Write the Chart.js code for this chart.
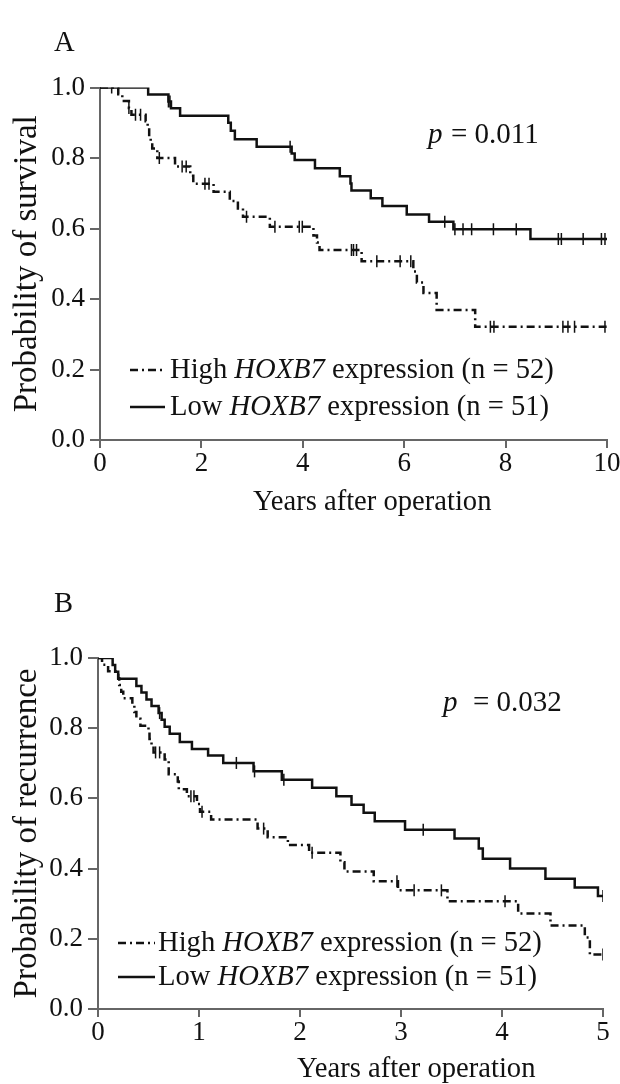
<!DOCTYPE html>
<html>
<head>
<meta charset="utf-8">
<script src="https://cdn.jsdelivr.net/npm/chart.js@4.4.0/dist/chart.umd.min.js"></script>
<style>
  html, body { margin: 0; padding: 0; background: #fff; overflow: hidden; }
  .panel { position: absolute; left: 0; width: 620px; }
  #panelA { top: 0; height: 540px; }
  #panelB { top: 542px; height: 560px; }
</style>
</head>
<body>
<div class="panel" id="panelA"><canvas id="chartA"></canvas></div>
<div class="panel" id="panelB"><canvas id="chartB"></canvas></div>
<script>
//--------------------------------DATA----------------------------------------

// Panel A: survival (years after operation)
const aLowTimes  = [0, 0.95, 1.35, 1.40, 1.58, 2.53, 2.58, 2.66, 3.09, 3.78, 3.84, 4.24, 4.73, 4.94, 4.96, 5.34, 5.57, 6.05, 6.49, 6.97, 8.49, 10];
const aLowSurv   = [1, 0.980, 0.960, 0.941, 0.920, 0.900, 0.877, 0.853, 0.832, 0.813, 0.794, 0.771, 0.748, 0.728, 0.708, 0.686, 0.664, 0.640, 0.619, 0.598, 0.570, 0.570];
const aLowCens   = [0.23, 1.35, 1.38, 3.75, 6.80, 7.00, 7.16, 7.33, 7.76, 8.21, 9.04, 9.10, 9.53, 9.89, 9.96];

const aHighTimes = [0, 0.36, 0.44, 0.57, 0.62, 0.90, 0.94, 0.97, 1.00, 1.03, 1.13, 1.48, 1.78, 1.84, 2.24, 2.56, 2.72, 2.82, 3.35, 4.21, 4.28, 4.33, 5.16, 6.18, 6.25, 6.38, 6.64, 7.40, 10];
const aHighSurv  = [1, 0.981, 0.962, 0.942, 0.923, 0.904, 0.885, 0.865, 0.846, 0.827, 0.800, 0.776, 0.750, 0.727, 0.704, 0.678, 0.657, 0.633, 0.605, 0.580, 0.560, 0.539, 0.507, 0.478, 0.447, 0.417, 0.369, 0.321, 0.321];
const aHighCens  = [0.57, 0.70, 0.80, 1.17, 1.62, 1.70, 2.07, 2.15, 2.89, 3.45, 3.93, 3.99, 4.96, 5.00, 5.06, 5.46, 5.92, 6.13, 7.70, 7.77, 9.13, 9.23, 9.36, 9.96];

// Panel B: recurrence (years after operation)
const bLowTimes  = [0, 0.145, 0.17, 0.20, 0.38, 0.43, 0.48, 0.53, 0.60, 0.63, 0.66, 0.71, 0.81, 0.93, 1.09, 1.24, 1.54, 1.82, 2.12, 2.36, 2.51, 2.63, 2.74, 3.04, 3.53, 3.77, 3.81, 4.08, 4.43, 4.72, 4.95, 5];
const bLowRec    = [1, 0.980, 0.961, 0.941, 0.920, 0.902, 0.882, 0.863, 0.843, 0.824, 0.804, 0.784, 0.761, 0.741, 0.722, 0.701, 0.677, 0.653, 0.630, 0.606, 0.582, 0.559, 0.535, 0.511, 0.486, 0.457, 0.428, 0.400, 0.371, 0.346, 0.322, 0.322];
const bLowCens   = [0.61, 1.37, 1.55, 1.84, 3.22, 5.0];

const bHighTimes = [0, 0.04, 0.10, 0.20, 0.21, 0.23, 0.25, 0.34, 0.36, 0.38, 0.42, 0.50, 0.51, 0.53, 0.55, 0.66, 0.70, 0.79, 0.80, 0.88, 0.98, 1.01, 1.12, 1.58, 1.68, 1.88, 2.09, 2.40, 2.44, 2.73, 2.97, 3.46, 4.16, 4.48, 4.82, 4.87, 5];
const bHighRec   = [1, 0.981, 0.962, 0.942, 0.923, 0.904, 0.885, 0.865, 0.846, 0.827, 0.807, 0.788, 0.769, 0.750, 0.731, 0.711, 0.669, 0.648, 0.626, 0.606, 0.584, 0.562, 0.540, 0.514, 0.489, 0.467, 0.445, 0.418, 0.392, 0.364, 0.338, 0.307, 0.272, 0.238, 0.204, 0.155, 0.155];
const bHighCens  = [0.57, 0.61, 0.92, 0.95, 1.03, 1.64, 2.12, 2.96, 3.13, 3.40, 4.03, 5.0];

// ticks and labels
const xTicksA = [0, 2, 4, 6, 8, 10];
const xTicksB = [0, 1, 2, 3, 4, 5];
const yTicks = [0, 0.2, 0.4, 0.6, 0.8, 1.0];
const yTickLabels = ['0.0', '0.2', '0.4', '0.6', '0.8', '1.0'];
const xTitle = 'Years after operation';
const legendHigh = ['High ', 'HOXB7', ' expression (n = 52)'];
const legendLow  = ['Low ', 'HOXB7', ' expression (n = 51)'];

//--------------------------------HELPERS-------------------------------------

const FONT = '"Liberation Serif", "Times New Roman", serif';
const FS = 27;       // tick labels
const FS_TXT = 28.6; // legend, titles
const FS_Y = 33;     // y axis title
const INK = '#111';
const AXIS = '#666';
const DASHDOT = [8, 4, 2, 4];

function toXY(times, vals) {
    return times.map((t, i) => ({ x: t, y: vals[i] }));
}

// censor marks sit on the step curve at the given time
function censorXY(cens, times, vals) {
    return cens.map(t => {
        let v = vals[0];
        for (let i = 0; i < times.length; i++) {
            if (times[i] <= t) v = vals[i];
        }
        return { x: t, y: v };
    });
}

function drawRuns(ctx, x, y, runs) {
    runs.forEach((r, i) => {
        ctx.font = (i % 2 === 1 ? 'italic ' : '') + FS_TXT + 'px ' + FONT;
        ctx.fillText(r, x, y);
        x += ctx.measureText(r).width;
    });
}

// panel letter, p value, x title and the legend with italic gene name
const annotate = {
    id: 'annotate',
    afterDraw(chart, args, o) {
        const ctx = chart.ctx;
        ctx.save();
        ctx.fillStyle = INK;
        ctx.strokeStyle = INK;
        ctx.textBaseline = 'alphabetic';
        ctx.textAlign = 'left';

        ctx.font = FS_TXT + 'px ' + FONT;
        ctx.fillText(o.letter, o.letterX, o.letterY);
        ctx.fillText(xTitle, o.xTitleX, o.xTitleY);

        ctx.font = 'italic 29px ' + FONT;
        ctx.fillText('p', o.pX, o.pY);
        ctx.font = '29px ' + FONT;
        ctx.fillText('= ' + o.pValue, o.eqX, o.pY);

        ctx.lineWidth = 2.5;
        ctx.setLineDash(DASHDOT);
        ctx.beginPath();
        ctx.moveTo(o.legX0, o.legY[0] - 8);
        ctx.lineTo(o.legX1, o.legY[0] - 8);
        ctx.stroke();
        ctx.setLineDash([]);
        ctx.beginPath();
        ctx.moveTo(o.legX0, o.legY[1] - 8);
        ctx.lineTo(o.legX1, o.legY[1] - 8);
        ctx.stroke();

        drawRuns(ctx, o.textX, o.legY[0], legendHigh);
        drawRuns(ctx, o.textX, o.legY[1], legendLow);
        ctx.restore();
    }
};

function makeChart(id, c) {
    const line = (times, vals, dash) => ({
        data: toXY(times, vals),
        stepped: 'before',
        borderColor: INK,
        borderWidth: 2.5,
        borderDash: dash,
        pointRadius: 0,
        fill: false
    });
    const marks = (cens, times, vals) => ({
        data: censorXY(cens, times, vals),
        showLine: false,
        pointStyle: 'line',
        rotation: 90,
        pointRadius: 6,
        borderWidth: 1.5,
        borderColor: INK
    });

    return new Chart(document.getElementById(id), {
        type: 'line',
        data: {
            datasets: [
                line(c.lowT, c.lowV, []),
                line(c.highT, c.highV, DASHDOT),
                marks(c.lowC, c.lowT, c.lowV),
                marks(c.highC, c.highT, c.highV)
            ]
        },
        options: {
            responsive: true,
            maintainAspectRatio: false,
            animation: false,
            layout: { padding: { top: c.top, right: c.right, left: 0, bottom: 0 } },
            plugins: {
                legend: { display: false },
                tooltip: { enabled: false },
                annotate: c.text
            },
            scales: {
                x: {
                    type: 'linear',
                    min: 0,
                    max: c.xTicks[c.xTicks.length - 1],
                    afterBuildTicks: s => { s.ticks = c.xTicks.map(v => ({ value: v })); },
                    afterFit: s => { s.height = c.xH; s.paddingLeft = 0; s.paddingRight = 0; },
                    ticks: {
                        color: INK,
                        font: { family: FONT, size: FS },
                        padding: 0,
                        maxRotation: 0,
                        callback: v => String(v)
                    },
                    grid: { drawOnChartArea: false, drawTicks: true, tickLength: 8, color: AXIS, lineWidth: 2 },
                    border: { display: true, color: AXIS, width: 2 },
                    title: { display: false }
                },
                y: {
                    min: 0,
                    max: 1,
                    afterBuildTicks: s => { s.ticks = yTicks.map(v => ({ value: v })); },
                    afterFit: s => { s.width = c.left; s.paddingTop = 0; s.paddingBottom = 0; },
                    ticks: {
                        color: INK,
                        font: { family: FONT, size: FS },
                        padding: 5,
                        callback: (v, i) => yTickLabels[i]
                    },
                    grid: { drawOnChartArea: false, drawTicks: true, tickLength: 10, color: AXIS, lineWidth: 2 },
                    border: { display: true, color: AXIS, width: 2 },
                    title: {
                        display: true,
                        text: c.yTitle,
                        color: INK,
                        font: { family: FONT, size: FS_Y },
                        padding: { top: 8, bottom: 0 }
                    }
                }
            }
        },
        plugins: [annotate]
    });
}

//--------------------------------CHARTS--------------------------------------

makeChart('chartA', {
    lowT: aLowTimes, lowV: aLowSurv, lowC: aLowCens,
    highT: aHighTimes, highV: aHighSurv, highC: aHighCens,
    xTicks: xTicksA,
    top: 87.5, right: 13, left: 100, xH: 100,
    yTitle: 'Probability of survival',
    text: {
        letter: 'A', letterX: 54, letterY: 51,
        xTitleX: 253, xTitleY: 510,
        pX: 428, eqX: 451, pY: 143, pValue: '0.011',
        legX0: 130, legX1: 165, textX: 170, legY: [378, 415]
    }
});

makeChart('chartB', {
    lowT: bLowTimes, lowV: bLowRec, lowC: bLowCens,
    highT: bHighTimes, highV: bHighRec, highC: bHighCens,
    xTicks: xTicksB,
    top: 116, right: 17, left: 98, xH: 93,
    yTitle: 'Probability of recurrence',
    text: {
        letter: 'B', letterX: 54, letterY: 612 - 542,
        xTitleX: 297, xTitleY: 1077 - 542,
        pX: 443, eqX: 473, pY: 711 - 542, pValue: '0.032',
        legX0: 118, legX1: 155, textX: 158, legY: [951 - 542, 985 - 542]
    }
});
</script>
</body>
</html>
